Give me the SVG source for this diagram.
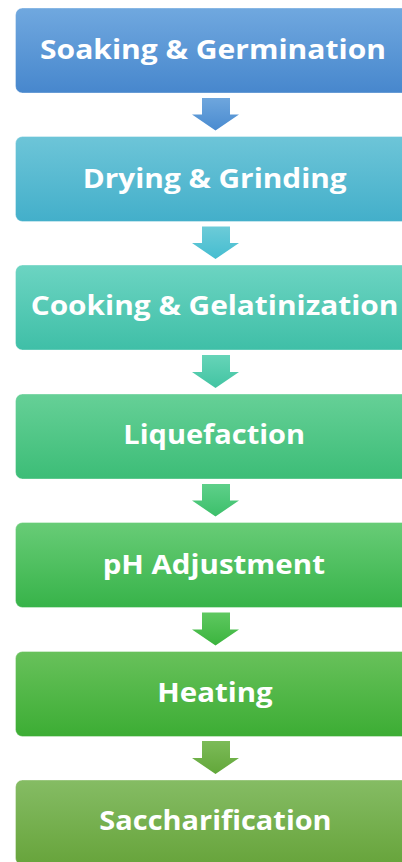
<svg xmlns="http://www.w3.org/2000/svg" width="402" height="862" viewBox="0 0 402 862">
  <defs>
    <linearGradient id="g1" x1="0" y1="0" x2="0" y2="1"><stop offset="0" stop-color="#70a8df"/><stop offset="1" stop-color="#4787cd"/></linearGradient>
    <linearGradient id="g2" x1="0" y1="0" x2="0" y2="1"><stop offset="0" stop-color="#6dc5d8"/><stop offset="1" stop-color="#43afca"/></linearGradient>
    <linearGradient id="g3" x1="0" y1="0" x2="0" y2="1"><stop offset="0" stop-color="#6cd4c2"/><stop offset="1" stop-color="#3fbfa7"/></linearGradient>
    <linearGradient id="g4" x1="0" y1="0" x2="0" y2="1"><stop offset="0" stop-color="#66d097"/><stop offset="1" stop-color="#3cbd77"/></linearGradient>
    <linearGradient id="g5" x1="0" y1="0" x2="0" y2="1"><stop offset="0" stop-color="#68cc77"/><stop offset="1" stop-color="#37b349"/></linearGradient>
    <linearGradient id="g6" x1="0" y1="0" x2="0" y2="1"><stop offset="0" stop-color="#68c15b"/><stop offset="1" stop-color="#3cad34"/></linearGradient>
    <linearGradient id="g7" x1="0" y1="0" x2="0" y2="1"><stop offset="0" stop-color="#85bc64"/><stop offset="1" stop-color="#67a43b"/></linearGradient>
    <linearGradient id="a1" x1="0" y1="0" x2="0" y2="1"><stop offset="0" stop-color="#6ea6dd"/><stop offset="1" stop-color="#4a8bd0"/></linearGradient>
    <linearGradient id="a2" x1="0" y1="0" x2="0" y2="1"><stop offset="0" stop-color="#6ccbd8"/><stop offset="1" stop-color="#45bdd0"/></linearGradient>
    <linearGradient id="a3" x1="0" y1="0" x2="0" y2="1"><stop offset="0" stop-color="#66d4b8"/><stop offset="1" stop-color="#42c4a2"/></linearGradient>
    <linearGradient id="a4" x1="0" y1="0" x2="0" y2="1"><stop offset="0" stop-color="#5ed08a"/><stop offset="1" stop-color="#3cbf6a"/></linearGradient>
    <linearGradient id="a5" x1="0" y1="0" x2="0" y2="1"><stop offset="0" stop-color="#5ec860"/><stop offset="1" stop-color="#3bb43e"/></linearGradient>
    <linearGradient id="a6" x1="0" y1="0" x2="0" y2="1"><stop offset="0" stop-color="#7cbb58"/><stop offset="1" stop-color="#62a73a"/></linearGradient>
    <style>
      .box { stroke: #ffffff; stroke-opacity: 0.35; stroke-width: 1; }
      .lbl { font-family: "Open Sans", "Liberation Sans", sans-serif; font-weight: 700; font-size: 26px; fill: #ffffff; text-anchor: middle; }
    </style>
  </defs>

  <rect width="402" height="862" fill="#ffffff"/>

  <!-- down arrows between stages -->
  <g id="connectors">
    <path d="M202 98 H230 V114.5 H239 L215.5 130.5 L192 114.5 H202 Z" fill="url(#a1)"/>
    <path d="M202 226.5 H230 V243 H239 L215.5 259 L192 243 H202 Z" fill="url(#a2)"/>
    <path d="M202 355 H230 V372 H239 L215.5 388 L192 372 H202 Z" fill="url(#a3)"/>
    <path d="M202 484 H230 V500.5 H239 L215.5 516.5 L192 500.5 H202 Z" fill="url(#a4)"/>
    <path d="M202 612.5 H230 V629.5 H239 L215.5 645.5 L192 629.5 H202 Z" fill="url(#a5)"/>
    <path d="M202 741 H230 V758 H239 L215.5 774 L192 758 H202 Z" fill="url(#a6)"/>
  </g>

  <g id="soaking">
    <rect class="box" x="15.5" y="8" width="400" height="85" rx="7" fill="url(#g1)"/>
    <text class="lbl" x="213" y="59" textLength="346" lengthAdjust="spacingAndGlyphs">Soaking &amp; Germination</text>
  </g>
  <g id="drying">
    <rect class="box" x="15.5" y="136.5" width="400" height="85" rx="7" fill="url(#g2)"/>
    <text class="lbl" x="214.7" y="187.5" textLength="264" lengthAdjust="spacingAndGlyphs">Drying &amp; Grinding</text>
  </g>
  <g id="cooking">
    <rect class="box" x="15.5" y="265" width="400" height="85" rx="7" fill="url(#g3)"/>
    <text class="lbl" x="214.5" y="315" textLength="367.7" lengthAdjust="spacingAndGlyphs">Cooking &amp; Gelatinization</text>
  </g>
  <g id="liquefaction">
    <rect class="box" x="15.5" y="394" width="400" height="85" rx="7" fill="url(#g4)"/>
    <text class="lbl" x="214.2" y="444" textLength="181.7" lengthAdjust="spacingAndGlyphs">Liquefaction</text>
  </g>
  <g id="ph-adjustment">
    <rect class="box" x="15.5" y="522.5" width="400" height="85" rx="7" fill="url(#g5)"/>
    <text class="lbl" x="213.8" y="573.5" textLength="222.3" lengthAdjust="spacingAndGlyphs">pH Adjustment</text>
  </g>
  <g id="heating">
    <rect class="box" x="15.5" y="651.5" width="400" height="85" rx="7" fill="url(#g6)"/>
    <text class="lbl" x="215" y="702" textLength="115.3" lengthAdjust="spacingAndGlyphs">Heating</text>
  </g>
  <g id="saccharification">
    <rect class="box" x="15.5" y="780" width="400" height="85" rx="7" fill="url(#g7)"/>
    <text class="lbl" x="215.5" y="830" textLength="232.3" lengthAdjust="spacingAndGlyphs">Saccharification</text>
  </g>
</svg>
